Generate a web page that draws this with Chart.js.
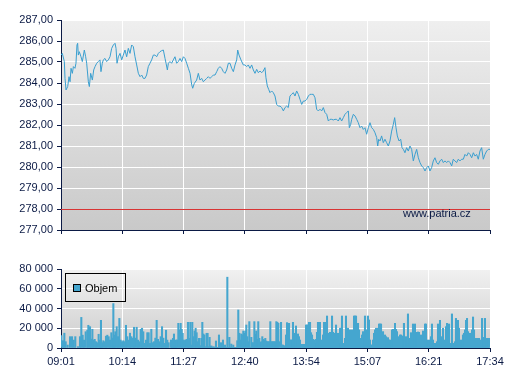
<!DOCTYPE html>
<html><head><meta charset="utf-8">
<script src="https://cdn.jsdelivr.net/npm/chart.js@4.4.1/dist/chart.umd.min.js"></script>
<style>
html,body{margin:0;padding:0;background:#fff;}
#wrap{position:relative;width:507px;height:380px;overflow:hidden;}
canvas{position:absolute;left:0;}
#c1{top:0}
#c2{top:250px}
</style></head><body>
<div id="wrap">
<canvas id="c1" width="507" height="250"></canvas>
<canvas id="c2" width="507" height="130"></canvas>
</div>
<script>
// ---- data ----
const timeLabels = ['09:01','10:14','11:27','12:40','13:54','15:07','16:21','17:34'];
const sessionMinutes = 513; // 09:01 -> 17:34

const priceTimes = [
0,1.6,4.0,4.8,6.0,8.0,9.6,10.8,12.0,13.6,14.8,16.7,17.9,19.1,19.9,20.7,21.9,23.9,25.5,27.9,
29.5,30.7,32.7,33.9,35.5,37.5,39.1,40.7,42.7,44.6,46.6,47.8,49.4,50.6,52.6,54.6,56.6,58.6,60.6,62.6,
64.6,65.8,67.0,68.6,70.6,72.6,74.5,76.5,78.5,80.5,82.5,84.5,86.5,88.5,90.5,92.5,94.5,96.5,98.5,100.4,
102.4,104.4,106.4,108.4,110.4,112.4,114.4,116.4,118.4,120.4,122.4,124.4,125.6,127.2,128.4,130.3,132.3,134.3,136.3,138.3,
140.3,142.3,144.3,146.3,148.3,150.3,152.3,154.3,156.3,157.5,159.4,162.2,164.2,166.2,168.2,170.2,172.2,174.2,176.2,178.2,
180.2,182.2,184.2,186.2,188.1,190.1,192.1,194.1,196.1,198.1,200.1,202.1,204.1,206.1,208.1,210.1,211.3,212.9,215.2,218.0,
220.0,222.0,224.0,226.0,228.0,230.0,232.0,
234.0,236.0,238.0,240.0,241.9,243.9,245.1,246.7,248.3,249.9,251.9,253.9,255.9,257.9,259.9,261.9,263.9,265.9,267.9,269.8,
271.8,273.8,275.8,277.8,279.8,281.8,283.8,285.8,287.8,289.8,291.8,293.8,295.8,297.7,299.7,301.7,303.7,305.7,307.7,309.7,
311.7,313.7,315.7,317.7,319.7,321.7,323.7,325.7,327.6,329.6,331.6,333.6,335.6,337.6,339.6,341.6,343.6,344.8,346.4,347.6,
349.6,351.6,353.6,355.5,357.5,359.5,361.5,363.5,365.5,367.5,369.5,371.5,373.5,375.5,377.5,378.7,379.9,381.5,383.4,385.4,
387.4,389.4,391.4,393.4,395.4,397.4,399.0,400.6,402.2,404.2,406.2,407.8,409.4,411.3,413.3,415.3,417.3,419.3,421.3,423.3,
425.3,427.3,429.3,431.3,433.3,435.3,437.3,439.3,441.2,443.2,445.2,447.2,449.2,451.2,453.2,455.2,457.2,459.2,461.2,463.2,
465.2,467.2,469.1,471.1,473.1,475.1,477.1,479.1,481.1,483.1,485.1,487.1,489.1,491.1,493.1,495.1,497.0,499.0,501.0,503.0,
505.0,507.0,509.0,511.0,513.0
];
const priceValues = [
285.33,285.41,285.02,284.22,283.67,283.83,284.30,284.06,284.70,284.46,284.78,284.70,284.94,285.81,285.89,285.33,285.49,285.25,285.02,285.57,
285.25,284.94,284.06,283.83,284.46,284.14,284.62,284.78,284.94,285.02,285.10,284.54,284.94,285.10,285.17,285.02,285.10,285.25,285.65,285.81,
285.89,285.65,284.94,285.25,285.41,285.10,285.33,285.57,285.25,285.65,285.41,285.81,285.73,285.25,284.86,284.46,284.30,284.38,284.22,284.22,
284.38,284.78,284.94,285.10,285.33,285.33,285.25,285.41,285.49,285.54,285.57,285.17,284.94,284.62,284.94,285.02,284.94,285.10,285.25,284.94,
285.02,285.17,285.02,285.25,285.17,284.94,284.70,284.46,283.91,283.75,283.98,284.14,284.46,284.14,284.22,284.06,284.14,284.22,284.30,284.22,
284.30,284.38,284.38,284.54,284.70,284.78,284.70,284.54,284.46,284.62,284.94,284.94,284.70,284.54,284.86,285.10,285.57,285.33,285.10,284.86,
284.86,284.78,284.86,284.70,284.86,284.62,284.46,
284.65,284.49,284.57,284.49,284.57,284.73,284.25,283.86,283.70,283.54,283.62,283.54,283.38,282.98,282.90,282.90,282.83,282.67,282.83,282.90,
282.83,283.38,283.46,283.54,283.38,283.62,283.46,283.22,282.98,283.14,283.14,283.22,283.38,283.46,283.46,283.46,283.30,282.75,282.67,282.75,
282.67,282.83,282.59,282.51,282.19,282.27,282.27,282.24,282.27,282.27,282.19,282.35,282.19,282.35,282.51,282.59,282.67,281.87,282.03,282.27,
282.51,282.43,282.27,282.11,281.87,281.95,281.79,281.87,281.56,281.87,282.11,281.87,281.79,281.63,281.40,281.00,281.32,281.24,281.48,281.16,
281.32,281.16,281.00,281.24,281.71,282.03,282.35,281.87,281.48,281.24,281.32,280.92,280.84,280.68,280.92,280.76,281.00,280.84,280.29,280.60,
280.84,280.44,280.21,280.05,279.97,279.81,279.97,280.05,279.81,279.97,280.29,280.44,280.21,280.13,280.29,280.37,280.21,280.29,280.21,280.29,
280.21,280.05,280.37,280.29,280.21,280.37,280.29,280.37,280.37,280.60,280.52,280.68,280.60,280.44,280.68,280.52,280.60,280.37,280.76,280.92,
280.37,280.60,280.76,280.84,280.84
];
const referenceLevel = 278;

const volumeTimes = [
0.4,2.4,4,5.6,8,10.8,13.2,15.2,17.1,20.3,22.7,24.3,25.9,27.5,29.5,31.5,32.7,34.7,35.9,37.5,
38.7,40.3,41.9,43.4,45,46.6,47.8,49,50.6,52.2,53.8,55.4,57,58.6,60.2,61.4,62.6,63.8,65,66.6,
68.2,69.8,71.3,72.9,74.5,76.1,77.7,79.3,80.9,82.5,84.1,85.7,87.3,88.9,90.5,92.1,93.7,95.3,96.9,98.4,
100,101.6,103.2,104.8,106.4,108,109.6,111.2,112.8,114.4,116,117.6,119.2,120.8,122.4,124,125.6,127.1,128.7,
131.5,132.7,133.9,135.1,136.3,137.5,138.7,140.3,141.5,143.1,144.3,145.5,146.6,147.8,149.0,150.2,151.8,153.0,154.6,155.8,
157.0,158.2,159.8,161.0,162.2,163.8,165.0,166.2,167.8,169.0,170.2,171.4,172.6,174.1,175.3,176.5,177.7,178.9,180.1,181.3,
182.5,183.7,185.3,186.5,187.7,188.9,190.1,191.3,192.5,193.7,194.9,196.1,197.3,198.9,200.1,201.3,202.5,203.6,204.8,206.0,
207.2,208.4,209.6,210.8,212.0,213.2,214.4,215.6,216.8,218.0,219.2,220.4,221.6,222.8,224.0,225.2,226.4,227.6,228.8,230.0,
231.2,232.3,233.5,234.7,235.9,237.1,238.3,239.5,240.7,241.9,243.1,244.3,245.5,246.7,247.9,249.1,250.3,251.5,252.7,253.9,
255.1,256.3,257.5,258.7,259.9,261.1,
263.1,264.3,265.5,266.7,267.9,269.1,270.3,271.5,272.7,273.9,275.1,276.3,277.4,278.6,279.8,281.0,282.2,283.4,284.6,285.8,
287.0,288.2,289.4,290.6,291.8,293.0,294.2,295.4,296.6,297.8,299.0,300.2,301.4,302.6,303.8,305.0,306.1,307.3,308.5,309.7,
310.9,312.1,313.3,314.5,315.7,316.9,318.1,319.3,320.5,321.7,322.9,324.1,325.3,326.5,327.7,328.9,330.1,331.3,332.5,333.7,
334.8,336.0,337.2,338.4,339.6,340.8,342.0,343.2,344.4,345.6,346.8,348.0,349.2,350.4,351.6,352.8,354.0,355.2,356.4,357.6,
358.8,360.0,361.2,362.4,363.5,364.7,365.9,367.1,368.3,369.5,370.7,371.9,373.1,374.3,375.5,376.7,377.9,379.1,380.3,381.5,
382.7,383.9,385.1,386.3,387.5,388.7,389.8,391.0,392.2,
393.4,394.6,395.8,397.0,398.2,399.4,400.6,401.8,403.0,404.2,405.4,406.6,407.8,409.0,410.1,411.3,412.5,413.7,414.9,416.1,
417.3,418.5,419.7,420.9,422.1,423.3,424.5,425.7,426.9,428.1,429.3,430.5,431.7,432.9,434.1,435.3,436.4,437.6,438.8,440.0,
441.2,442.4,443.6,444.8,446.0,447.2,448.4,449.6,450.8,452.0,453.2,454.4,455.6,456.8,458.0,459.2,460.4,461.6,462.8,464.0,
465.2,466.4,467.5,468.7,469.9,471.1,472.3,473.5,474.7,475.9,477.1,478.3,479.5,480.7,481.9,483.1,484.3,485.5,486.7,487.9,
489.1,490.3,491.5,492.7,493.9,495.1,496.3,497.5,498.7,499.9,501.1,502.3,503.5,504.7,505.8,507.0,508.2,509.4,510.6,511.8
];
const volumeValues = [
12500,7400,15000,6400,3000,11500,11500,8000,11500,1400,11500,31000,13000,8000,16500,18000,23000,21600,9000,19000,
8000,8800,6400,5400,13900,8000,28000,5400,7400,6400,12000,13000,11500,8000,15500,10000,45000,13000,16500,21600,
11500,30000,8000,6400,7400,6400,23000,11500,8000,15000,11500,10000,21000,10000,21000,8000,6400,19000,20000,16500,
4700,8000,15500,15500,4700,19000,5400,6400,10000,28000,8800,6400,11500,21600,10000,4700,18000,8000,5400,
8100,6400,9800,14200,6400,8100,8100,25000,18300,25000,18900,14900,8100,7400,8100,8800,26000,9800,26000,3000,
26000,11500,17200,20000,15500,6400,9800,2400,9800,26000,14200,13200,1400,14900,14900,1400,10800,2000,2000,700,
1400,700,7100,700,700,13200,700,5400,700,8100,700,3000,700,71700,700,10800,700,4000,700,3000,
700,700,700,7400,38500,14900,8100,14200,13200,17200,14900,17200,23300,11500,6400,26700,700,10800,5400,5400,
26700,13900,17200,8800,26700,9800,5700,6400,11500,8800,8100,9800,7100,6400,6400,6400,26700,6400,6400,6400,
6400,6400,26700,26000,25000,6400,
26000,3000,3000,2400,1400,13200,25700,16600,25000,8100,8100,8100,26000,8100,14900,22300,1400,14200,11500,8100,
1400,3700,3700,3700,3700,23300,23300,23300,26000,26000,15500,13200,8800,8100,4700,8800,15900,26000,26000,26000,
8100,1400,13200,26000,26000,26000,32400,3000,14900,15900,1400,32400,15900,5400,14900,23300,8100,14900,4700,20000,
20000,32400,1400,4700,9800,32400,20000,20000,7400,18300,8100,18300,11500,32400,32400,32400,23300,25000,18300,4700,
9800,13200,16600,9800,32400,14900,18300,32400,28400,8100,3000,3000,8100,14900,18300,20000,6400,20000,24300,24300,
24300,8100,16600,3000,13200,11500,9800,10500,8100,
8100,6400,18300,18900,11500,25000,18900,16600,11500,8100,13200,13200,12200,10800,25000,8800,11500,10800,34500,4700,
9800,15500,14900,24300,8100,24300,14900,15900,16200,15900,11500,13200,8100,17200,6400,24300,24300,6400,8100,7400,
8100,11500,24300,8100,4700,4700,2000,6400,24300,16600,28000,11500,8100,20000,8100,6400,21600,25000,14900,24300,
4700,3000,34500,3000,4700,6400,30000,21600,28000,20000,3000,8100,6400,13200,14900,18300,28000,30000,16600,11500,
14900,14900,18300,31400,18300,9800,8100,9800,4700,9800,8100,4700,30000,9800,10800,30000,9800,9800,9800,9800
];
const seriesName = 'Objem';
const watermarkText = 'www.patria.cz';

// ---- styling ----
const navy = '#0b1a45';
const gridWhite = '#ffffff';
const lineBlue = '#3a9fd0';
const barBlue = '#45a6cf';
const refRed = '#d83434';
const font = {family: "'Liberation Sans', Arial, sans-serif", size: 11};

const bgPlugin = {
  id: 'bg',
  beforeDraw(chart, args, opts) {
    const {ctx, chartArea: a} = chart;
    const g = ctx.createLinearGradient(0, a.top, 0, a.bottom);
    g.addColorStop(0, opts.top);
    g.addColorStop(1, opts.bottom);
    ctx.save();
    ctx.fillStyle = g;
    ctx.fillRect(a.left, a.top, a.right - a.left, a.bottom - a.top);
    ctx.restore();
  }
};

function xAxis(showLabels, height) {
  return {
    type: 'linear', min: 0, max: sessionMinutes, offset: false,
    afterBuildTicks(s) {
      s.ticks = timeLabels.map((_, i) => ({value: i * sessionMinutes / (timeLabels.length - 1)}));
    },
    ticks: {display: showLabels, autoSkip: false, maxRotation: 0, minRotation: 0,
      callback: (v, i) => timeLabels[i], color: navy, font: font, padding: 3},
    grid: {color: gridWhite, lineWidth: 1, drawTicks: true, tickLength: 4, tickColor: navy, offset: false},
    border: {display: true, color: navy, width: 1},
    afterFit(s) { s.height = height; }
  };
}

// ---- price chart ----
const overlayPlugin = {
  id: 'overlay',
  beforeDatasetsDraw(chart) {
    const ctx = chart.ctx, a = chart.chartArea;
    const y = Math.floor(chart.scales.y.getPixelForValue(referenceLevel)) + 0.5;
    ctx.save();
    ctx.strokeStyle = refRed;
    ctx.lineWidth = 1;
    ctx.beginPath();
    ctx.moveTo(a.left, y);
    ctx.lineTo(a.right, y);
    ctx.stroke();
    ctx.restore();
  },
  afterDatasetsDraw(chart) {
    const ctx = chart.ctx;
    ctx.save();
    ctx.font = "11px 'Liberation Sans', Arial, sans-serif";
    ctx.fillStyle = navy;
    ctx.textAlign = 'left';
    ctx.textBaseline = 'middle';
    ctx.fillText(watermarkText, 403, 214);
    ctx.restore();
  }
};

new Chart(document.getElementById('c1'), {
  type: 'line',
  data: {
    datasets: [
      {data: priceTimes.map((t, i) => ({x: t, y: priceValues[i]})), borderColor: lineBlue, borderWidth: 1,
        pointRadius: 0, tension: 0, fill: false}
    ]
  },
  options: {
    responsive: false, animation: false, devicePixelRatio: 1,
    layout: {padding: {top: 20, right: 17, left: 0, bottom: 0}},
    plugins: {legend: {display: false}, tooltip: {enabled: false}, bg: {top: '#efefef', bottom: '#c9c9c9'}},
    scales: {
      x: xAxis(false, 20),
      y: {
        min: 277, max: 287,
        ticks: {stepSize: 1, callback: v => v.toFixed(2).replace('.', ','), color: navy, font: font, padding: 4},
        grid: {color: gridWhite, lineWidth: 1, tickLength: 4, tickColor: navy},
        border: {display: true, color: navy, width: 1},
        afterFit(s) { s.width = 61; }
      }
    }
  },
  plugins: [bgPlugin, overlayPlugin]
});

// ---- volume chart ----
const legendPlugin = {
  id: 'boxLegend',
  afterDatasetsDraw(chart) {
    const ctx = chart.ctx;
    ctx.save();
    ctx.strokeStyle = '#000';
    ctx.lineWidth = 1;
    ctx.strokeRect(65.5, 23.5, 60, 28);
    ctx.fillStyle = barBlue;
    ctx.fillRect(73.5, 34.5, 7, 7);
    ctx.strokeRect(73.5, 34.5, 7, 7);
    ctx.fillStyle = '#000';
    ctx.font = "11px 'Liberation Sans', Arial, sans-serif";
    ctx.textAlign = 'left';
    ctx.textBaseline = 'middle';
    ctx.fillText(seriesName, 85, 38.5);
    ctx.restore();
  }
};

new Chart(document.getElementById('c2'), {
  type: 'bar',
  data: {
    datasets: [{
      data: volumeTimes.map((t, i) => ({x: t, y: volumeValues[i]})),
      backgroundColor: barBlue, borderWidth: 0, barThickness: 1.4
    }]
  },
  options: {
    responsive: false, animation: false, devicePixelRatio: 1,
    layout: {padding: {top: 19, right: 17, left: 0, bottom: 0}},
    plugins: {legend: {display: false}, tooltip: {enabled: false}, bg: {top: '#f1f1f1', bottom: '#cdcdcd'}},
    scales: {
      x: xAxis(true, 32),
      y: {
        min: 0, max: 80000,
        ticks: {stepSize: 20000, callback: v => String(v).replace(/\B(?=(\d{3})+(?!\d))/g, ' '), color: navy, font: font, padding: 4},
        grid: {color: gridWhite, lineWidth: 1, tickLength: 4, tickColor: navy},
        border: {display: true, color: navy, width: 1},
        afterFit(s) { s.width = 61; }
      }
    }
  },
  plugins: [bgPlugin, legendPlugin]
});
</script>
</body></html>
